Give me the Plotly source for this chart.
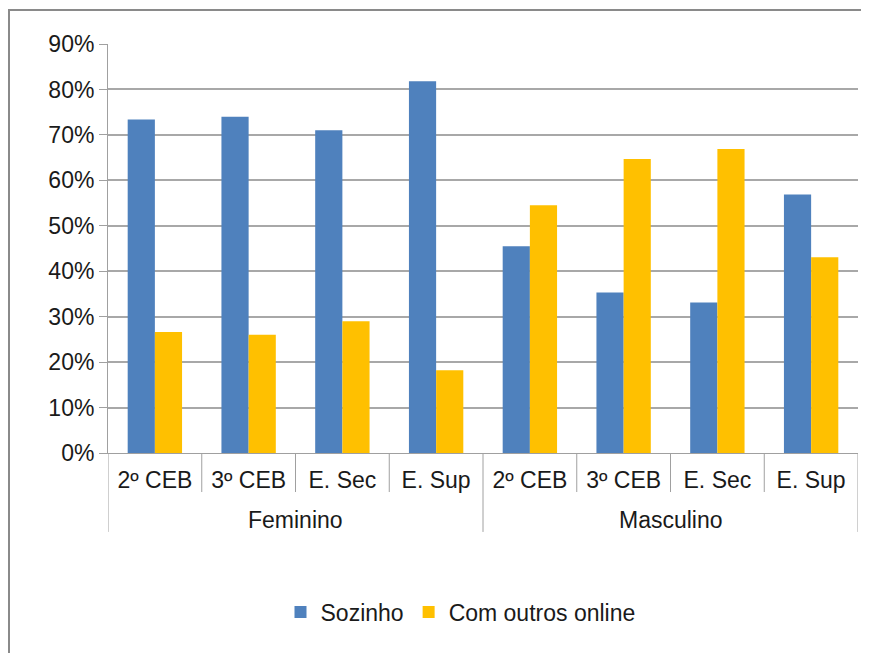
import plotly.graph_objects as go

groups = ["Feminino"] * 4 + ["Masculino"] * 4
levels = ["2º CEB", "3º CEB", "E. Sec", "E. Sup"] * 2
sozinho = [0.734, 0.740, 0.710, 0.818, 0.455, 0.353, 0.331, 0.569]
com_outros = [0.266, 0.260, 0.290, 0.182, 0.545, 0.647, 0.669, 0.431]
group_names = ["Feminino", "Masculino"]

FONT = "Liberation Sans, Arial, sans-serif"
GRAY = "#a0a0a0"

keys = [g + " " + l for g, l in zip(groups, levels)]

fig = go.Figure()
fig.add_trace(go.Bar(name="Sozinho", x=keys, y=sozinho,
                     marker=dict(color="#4F81BD", line=dict(width=0))))
fig.add_trace(go.Bar(name="Com outros online", x=keys, y=com_outros,
                     marker=dict(color="#FFC000", line=dict(width=0))))

n = len(keys)
per_group = n // len(group_names)
shapes = []
# separators between categories (short) and between groups / ends (long)
for b in range(n + 1):
    long_line = (b % per_group == 0)
    shapes.append(dict(type="line", xref="x", yref="paper",
                       x0=b - 0.5, x1=b - 0.5, y0=0,
                       y1=-0.193 if long_line else -0.0954,
                       line=dict(color=GRAY, width=1)))
# outer border of the chart area
shapes.append(dict(type="rect", xref="paper", yref="paper", x0=-0.1320, x1=1.3,
                   y0=-0.7, y1=1.0831, line=dict(color="#8a8a8a", width=2),
                   fillcolor="rgba(0,0,0,0)", layer="below"))

annotations = []
for i, g in enumerate(group_names):
    annotations.append(dict(text=g, xref="x", yref="paper",
                            x=i * per_group + (per_group - 1) / 2, y=-0.164,
                            xanchor="center", yanchor="middle", showarrow=False,
                            font=dict(family=FONT, size=23, color="#1a1a1a")))

fig.update_layout(
    width=869, height=653,
    margin=dict(l=100, r=19, t=36, b=208),
    paper_bgcolor="white", plot_bgcolor="white",
    barmode="group", bargap=0.42, bargroupgap=0,
    font=dict(family=FONT, size=23, color="#1a1a1a"),
    showlegend=True,
    legend=dict(orientation="h", x=0.47, xanchor="center", y=-0.389, yanchor="middle",
                font=dict(size=23), traceorder="normal", itemwidth=30),
    xaxis=dict(type="category", tickvals=keys, ticktext=levels,
               showline=True, linecolor=GRAY, linewidth=1,
               ticks="", ticklabelstandoff=6, tickfont=dict(size=23),
               showgrid=False, range=[-0.5, n - 0.5]),
    yaxis=dict(range=[0, 0.9], dtick=0.1, tickformat=".0%", showgrid=True,
               gridcolor="#a8a8a8", gridwidth=1.5, showline=True, linecolor=GRAY,
               ticks="outside", ticklen=8, tickcolor=GRAY, zeroline=False,
               tickfont=dict(size=23)),
    shapes=shapes,
    annotations=annotations,
)

fig.write_html("out.html")
